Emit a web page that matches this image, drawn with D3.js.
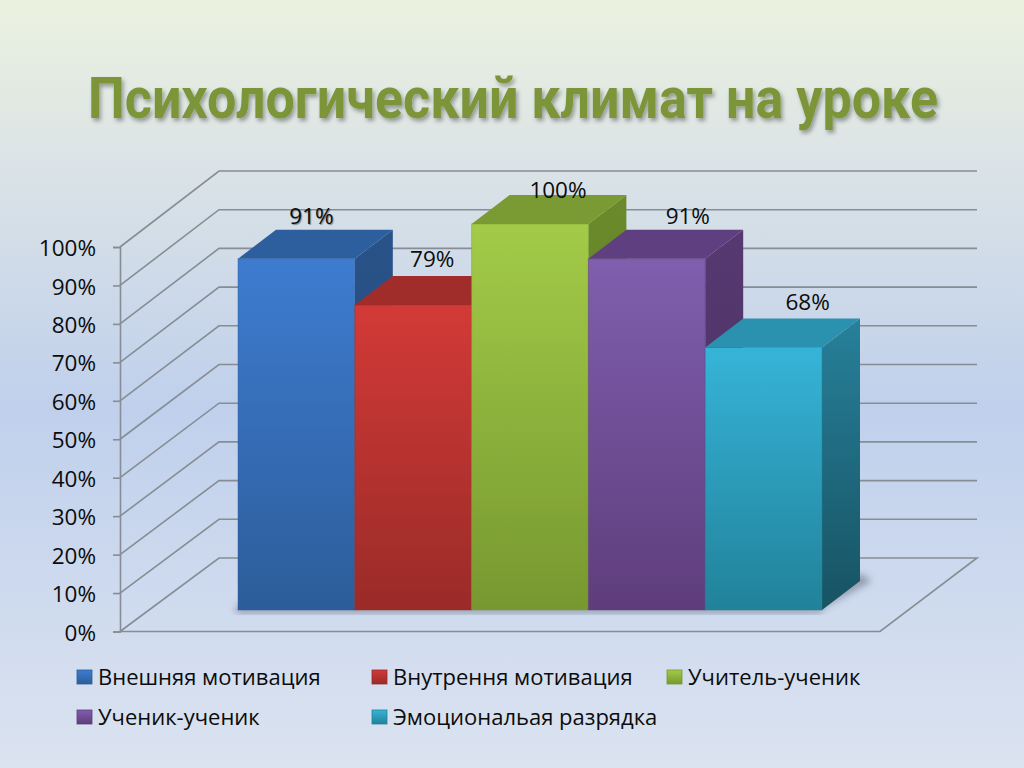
<!DOCTYPE html>
<html>
<head>
<meta charset="utf-8">
<script src="https://cdn.jsdelivr.net/npm/d3@7"></script>
<style>
  html, body { margin: 0; padding: 0; background: #d5dfee; overflow: hidden; }
  text { font-family: "Open Sans", "Noto Sans", sans-serif; fill: #0c0c0c; }
</style>
</head>
<body>
<script>
const titleText = "Психологический климат на уроке";
const categories = ["Внешняя мотивация", "Внутрення мотивация", "Учитель-ученик", "Ученик-ученик", "Эмоциональая разрядка"];
const values = [91, 79, 100, 91, 68];
const tickValues = [0, 10, 20, 30, 40, 50, 60, 70, 80, 90, 100];

// front, top, side shades per bar
const frontTop = ["#3e7cd0", "#d23a37", "#a3cb48", "#7f5fae", "#36b4d8"];
const frontBottom = ["#2c5d9a", "#9a2b28", "#779830", "#5f3d7c", "#21829a"];
const topColors = ["#2d5f9e", "#a12d2a", "#7a9b33", "#5f3f80", "#2a91ae"];
const sideTop = ["#295288", "#8a2523", "#6a8a2b", "#553970", "#27809a"];
const sideBottom = ["#234a7c", "#7c2020", "#5c7a25", "#4a2f62", "#175363"];

// label nudges relative to the top of each bar
const labelDx = [15, 19, 28, 41, 44];
const labelDy = [-35, -38, -26, -35, -38];

const width = 1024;
const height = 768;

const barDx = 38, barDy = -29;

const y = d3.scaleLinear().domain([0, 100]).range([631.5, 247]);
const yBack = d3.scaleLinear().domain([0, 100]).range([558, 171]);
const barY = d3.scaleLinear().domain([0, 100]).range([610, 224]);
const x = d3.scaleBand().domain(categories).range([238, 822]);

const svg = d3.select("body").append("svg")
  .attr("width", width)
  .attr("height", height)
  .style("display", "block");

const defs = svg.append("defs");

const bg = defs.append("linearGradient").attr("id", "bg")
  .attr("x1", 0).attr("y1", 0).attr("x2", 0).attr("y2", 1);
bg.append("stop").attr("offset", "0%").attr("stop-color", "#ebf2df");
bg.append("stop").attr("offset", "20%").attr("stop-color", "#dce4e6");
bg.append("stop").attr("offset", "53%").attr("stop-color", "#c0d0ec");
bg.append("stop").attr("offset", "100%").attr("stop-color", "#dbe3f0");

const addGrad = (id, c1, c2) => {
  const g = defs.append("linearGradient").attr("id", id)
    .attr("x1", 0).attr("y1", 0).attr("x2", 0).attr("y2", 1);
  g.append("stop").attr("offset", "0%").attr("stop-color", c1);
  g.append("stop").attr("offset", "100%").attr("stop-color", c2);
};
categories.forEach((c, i) => {
  addGrad("front" + i, frontTop[i], frontBottom[i]);
  addGrad("side" + i, sideTop[i], sideBottom[i]);
});

const titleShadow = defs.append("filter").attr("id", "titleShadow")
  .attr("x", "-5%").attr("y", "-20%").attr("width", "110%").attr("height", "150%");
titleShadow.append("feDropShadow")
  .attr("dx", 2).attr("dy", 3).attr("stdDeviation", 2)
  .attr("flood-color", "#000").attr("flood-opacity", 0.35);

defs.append("filter").attr("id", "blur")
  .attr("x", "-20%").attr("y", "-50%").attr("width", "140%").attr("height", "200%")
  .append("feGaussianBlur").attr("stdDeviation", 3.5);

svg.append("rect").attr("width", width).attr("height", height).attr("fill", "url(#bg)");

svg.append("text")
  .attr("x", 88)
  .attr("y", 118)
  .attr("textLength", 850)
  .attr("lengthAdjust", "spacingAndGlyphs")
  .attr("filter", "url(#titleShadow)")
  .style("font-family", "Roboto, 'Open Sans', sans-serif")
  .style("font-size", "57px")
  .style("font-weight", 700)
  .style("fill", "#7b9539")
  .text(titleText);

// walls: each tick runs from the axis back to the wall and across it
const gridColor = "#868d94";
svg.append("g").selectAll("path")
  .data(tickValues)
  .enter()
  .append("path")
  .attr("fill", "none")
  .attr("stroke", gridColor)
  .attr("stroke-width", 1.6)
  .attr("d", (d) => {
    const p = d3.path();
    p.moveTo(120, y(d));
    p.lineTo(219, yBack(d));
    p.lineTo(977, yBack(d));
    if (d === 0) {
      p.lineTo(880, y(d));
      p.lineTo(120, y(d));
    }
    return p.toString();
  });

const axis = d3.axisLeft(y)
  .tickValues(tickValues)
  .tickSize(7)
  .tickPadding(2)
  .tickFormat((d) => d + "%");

const axisG = svg.append("g")
  .attr("transform", "translate(120,0)")
  .call(axis);
axisG.selectAll("path, line").attr("stroke", gridColor).attr("stroke-width", 1.6);
axisG.selectAll("text")
  .style("font-size", "22.5px")
  .attr("x", -24)
  .attr("dy", "0.38em")
  .attr("fill", "#0c0c0c");
axisG.attr("font-family", null).attr("font-size", null);

// floor shadow
const bars = svg.append("g");
bars.append("path")
  .attr("filter", "url(#blur)")
  .attr("fill", "#5a5f70")
  .attr("opacity", 0.5)
  .attr("d", () => {
    const p = d3.path();
    const x0 = x(categories[0]);
    const x1 = x(categories[4]) + x.bandwidth();
    p.moveTo(x0 - 2, barY(0) - 1);
    p.lineTo(x1, barY(0) - 1);
    p.lineTo(x1 + barDx + 12, barY(0) + barDy);
    p.lineTo(x1 + barDx, barY(0) + barDy - 8);
    p.lineTo(x1, barY(0) - 6);
    p.lineTo(x0 - 2, barY(0) - 6);
    p.closePath();
    return p.toString();
  });
bars.append("rect")
  .attr("x", x(categories[0]) - 2)
  .attr("y", barY(0) - 1)
  .attr("width", x(categories[4]) + x.bandwidth() - x(categories[0]) + 2)
  .attr("height", 4)
  .attr("fill", "#5a5f70")
  .attr("opacity", 0.55)
  .attr("filter", "url(#blur)");

const bar = bars.selectAll("g.bar")
  .data(categories)
  .enter()
  .append("g")
  .attr("class", "bar");

const poly = (pts) => d3.line()(pts) + "Z";

bar.append("path")
  .attr("fill", (d, i) => `url(#side${i})`)
  .attr("d", (d, i) => {
    const r = x(d) + x.bandwidth(), t = barY(values[i]), b = barY(0);
    return poly([[r, t], [r + barDx, t + barDy], [r + barDx, b + barDy], [r, b]]);
  });

bar.append("path")
  .attr("fill", (d, i) => topColors[i])
  .attr("d", (d, i) => {
    const l = x(d), r = l + x.bandwidth(), t = barY(values[i]);
    return poly([[l, t], [l + barDx, t + barDy], [r + barDx, t + barDy], [r, t]]);
  });

bar.append("rect")
  .attr("x", (d) => x(d))
  .attr("y", (d, i) => barY(values[i]))
  .attr("width", x.bandwidth())
  .attr("height", (d, i) => barY(0) - barY(values[i]))
  .attr("fill", (d, i) => `url(#front${i})`)
  .attr("stroke", (d, i) => frontBottom[i])
  .attr("stroke-opacity", 0.45)
  .attr("stroke-width", 1);

svg.append("g").selectAll("text")
  .data(values)
  .enter()
  .append("text")
  .attr("x", (d, i) => x(categories[i]) + x.bandwidth() / 2 + labelDx[i])
  .attr("y", (d, i) => barY(d) + labelDy[i])
  .attr("text-anchor", "middle")
  .style("font-size", "22.5px")
  .style("text-shadow", (d, i) => i === 0 ? "1px 1px 1px rgba(0,0,0,0.4)" : null)
  .text((d) => d + "%");

// legend, three to a row
const legend = svg.append("g");
const legendItem = legend.selectAll("g")
  .data(categories)
  .enter()
  .append("g")
  .attr("transform", (d, i) => `translate(${77 + (i % 3) * 295},${670 + Math.floor(i / 3) * 40})`);

legendItem.append("rect")
  .attr("width", 15)
  .attr("height", 14)
  .attr("fill", (d, i) => `url(#front${i})`)
  .attr("stroke", (d, i) => frontBottom[i])
  .attr("stroke-width", 0.8);

legendItem.append("text")
  .attr("x", 21)
  .attr("y", 15)
  .style("font-size", "22px")
  .text((d) => d);
</script>
</body>
</html>
